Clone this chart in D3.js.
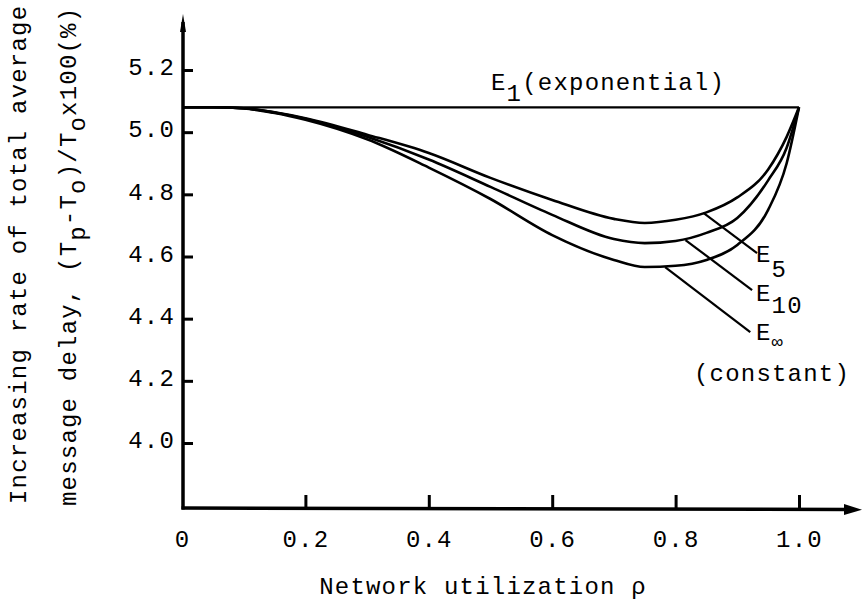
<!DOCTYPE html>
<html>
<head>
<meta charset="utf-8">
<script src="https://cdn.jsdelivr.net/npm/d3@7"></script>
<style>
  html, body { margin: 0; padding: 0; background: #fff; }
  svg { display: block; }
  text { font-family: "Liberation Mono", "Courier New", monospace; fill: #000; }
</style>
</head>
<body>
<svg id="chart" width="862" height="601"></svg>
<script>
// Network utilization (x) sample points shared by all curves
const rho = [0, 0.05, 0.1, 0.15, 0.2, 0.3, 0.4, 0.5, 0.6, 0.7, 0.75, 0.8, 0.85, 0.9, 0.95, 0.98, 1.0];

// Increasing rate of total average message delay (%)
const e1   = [5.08, 5.08, 5.08, 5.08, 5.08, 5.08, 5.08, 5.08, 5.08, 5.08, 5.08, 5.08, 5.08, 5.08, 5.08, 5.08, 5.08];
const e5   = [5.08, 5.08, 5.077, 5.064, 5.045, 4.992, 4.933, 4.853, 4.782, 4.721, 4.708, 4.718, 4.742, 4.790, 4.880, 4.985, 5.08];
const e10  = [5.08, 5.08, 5.077, 5.063, 5.043, 4.985, 4.912, 4.824, 4.734, 4.656, 4.643, 4.650, 4.676, 4.724, 4.845, 4.950, 5.08];
const eInf = [5.08, 5.08, 5.076, 5.062, 5.040, 4.977, 4.886, 4.785, 4.669, 4.589, 4.566, 4.570, 4.589, 4.637, 4.750, 4.900, 5.08];

// Axis ticks and their labels
const xTicks = [0, 0.2, 0.4, 0.6, 0.8, 1.0];
const xTickLabels = ["0", "0.2", "0.4", "0.6", "0.8", "1.0"];
const yTicks = [4.0, 4.2, 4.4, 4.6, 4.8, 5.0, 5.2];
const yTickLabels = ["4.0", "4.2", "4.4", "4.6", "4.8", "5.0", "5.2"];

// Leader lines from curves to their labels: [rho, value] pairs
const leaderE5   = [[0.845, 4.740], [0.932, 4.611]];
const leaderE10  = [[0.816, 4.653], [0.924, 4.492]];
const leaderEInf = [[0.783, 4.566], [0.921, 4.357]];

const svg = d3.select("#chart");
const FONT = 24, LS = 1.2;

const x = d3.scaleLinear().domain([0, 1]).range([182, 799]);
const y = d3.scaleLinear().domain([4.0, 5.2]).range([443, 70]);
const x0 = 183, yBase = 508;

// Axis lines with arrowheads
svg.append("line").attr("x1", x0).attr("y1", yBase + 1.5).attr("x2", x0).attr("y2", 22)
  .attr("stroke", "#000").attr("stroke-width", 3.5);
svg.append("path").attr("d", `M${x0 - 3},32 L${x0},14 L${x0 + 3},32 Z`).attr("fill", "#000");

svg.append("line").attr("x1", x0 - 1.5).attr("y1", yBase).attr("x2", 850).attr("y2", yBase + 1.5)
  .attr("stroke", "#000").attr("stroke-width", 3.5);
svg.append("path").attr("d", `M844,${yBase - 4} L862,${yBase + 1.8} L844,${yBase + 7} Z`).attr("fill", "#000");

// Y axis ticks (pointing inward)
const yAxis = d3.axisLeft(y).tickValues(yTicks)
  .tickFormat((d, i) => yTickLabels[i]).tickSizeInner(-10).tickSizeOuter(0).tickPadding(9);
const gy = svg.append("g").attr("transform", `translate(${x0},0)`).call(yAxis);
gy.select(".domain").remove();
gy.selectAll(".tick line").attr("stroke", "#000").attr("stroke-width", 3);
gy.selectAll(".tick text").attr("font-size", FONT).attr("letter-spacing", LS)
  .attr("font-family", null).attr("dy", "0.2em").attr("x", -8);

// X axis ticks (pointing up)
const xAxis = d3.axisBottom(x).tickValues(xTicks)
  .tickFormat((d, i) => xTickLabels[i]).tickSizeInner(-13).tickSizeOuter(0).tickPadding(0);
const gx = svg.append("g").attr("transform", `translate(0,${yBase})`).call(xAxis);
gx.select(".domain").remove();
gx.selectAll(".tick line").attr("stroke", "#000").attr("stroke-width", 3)
  .filter(d => d === 0).remove();
gx.selectAll(".tick text").attr("font-size", FONT).attr("letter-spacing", LS)
  .attr("font-family", null).attr("y", 39).attr("dy", null);

// Curves
const line = d3.line().x(d => x(d[0])).y(d => y(d[1])).curve(d3.curveMonotoneX);
const series = [e1, e5, e10, eInf];
series.forEach((vals, k) => {
  svg.append("path")
    .datum(rho.map((r, i) => [r, vals[i]]))
    .attr("d", line)
    .attr("fill", "none")
    .attr("stroke", "#000")
    .attr("stroke-width", k === 0 ? 2.2 : 2.6);
});

// Leader lines
[leaderE5, leaderE10, leaderEInf].forEach(seg => {
  svg.append("line")
    .attr("x1", x(seg[0][0])).attr("y1", y(seg[0][1]))
    .attr("x2", x(seg[1][0])).attr("y2", y(seg[1][1]))
    .attr("stroke", "#000").attr("stroke-width", 2.2);
});

function label(px, py, main, sub, subDy, rest, subSize) {
  const t = svg.append("text").attr("x", px).attr("y", py)
    .attr("font-size", FONT).attr("letter-spacing", LS);
  t.append("tspan").text(main);
  t.append("tspan").attr("dy", subDy).attr("font-size", subSize || FONT).text(sub);
  if (rest) t.append("tspan").attr("dy", -subDy).text(rest);
  return t;
}

label(491, 90, "E", "1", 11, "(exponential)");
label(756, 262, "E", "5", 15);
label(756, 301, "E", "10", 12);
label(756, 340, "E", "\u221E", 8, null, 19);
svg.append("text").attr("x", 772).attr("y", 381).attr("text-anchor", "middle")
  .attr("font-size", FONT).attr("letter-spacing", LS).text("(constant)");

// X axis title
svg.append("text").attr("x", 483).attr("y", 594).attr("text-anchor", "middle")
  .attr("font-size", FONT).attr("letter-spacing", LS).text("Network utilization \u03C1");

// Y axis title (two rotated lines)
svg.append("text").attr("transform", "translate(26,504) rotate(-90)")
  .attr("font-size", FONT).attr("letter-spacing", LS)
  .text("Increasing rate of total average");

const t2 = svg.append("text").attr("transform", "translate(76,506) rotate(-90)")
  .attr("font-size", FONT).attr("letter-spacing", LS);
t2.append("tspan").text("message delay, (T");
t2.append("tspan").attr("dy", 9).text("p");
t2.append("tspan").attr("dy", -9).text("-T");
t2.append("tspan").attr("dy", 9).text("o");
t2.append("tspan").attr("dy", -9).text(")/T");
t2.append("tspan").attr("dy", 9).text("o");
t2.append("tspan").attr("dy", -9).text("x100(%)");
</script>
</body>
</html>
